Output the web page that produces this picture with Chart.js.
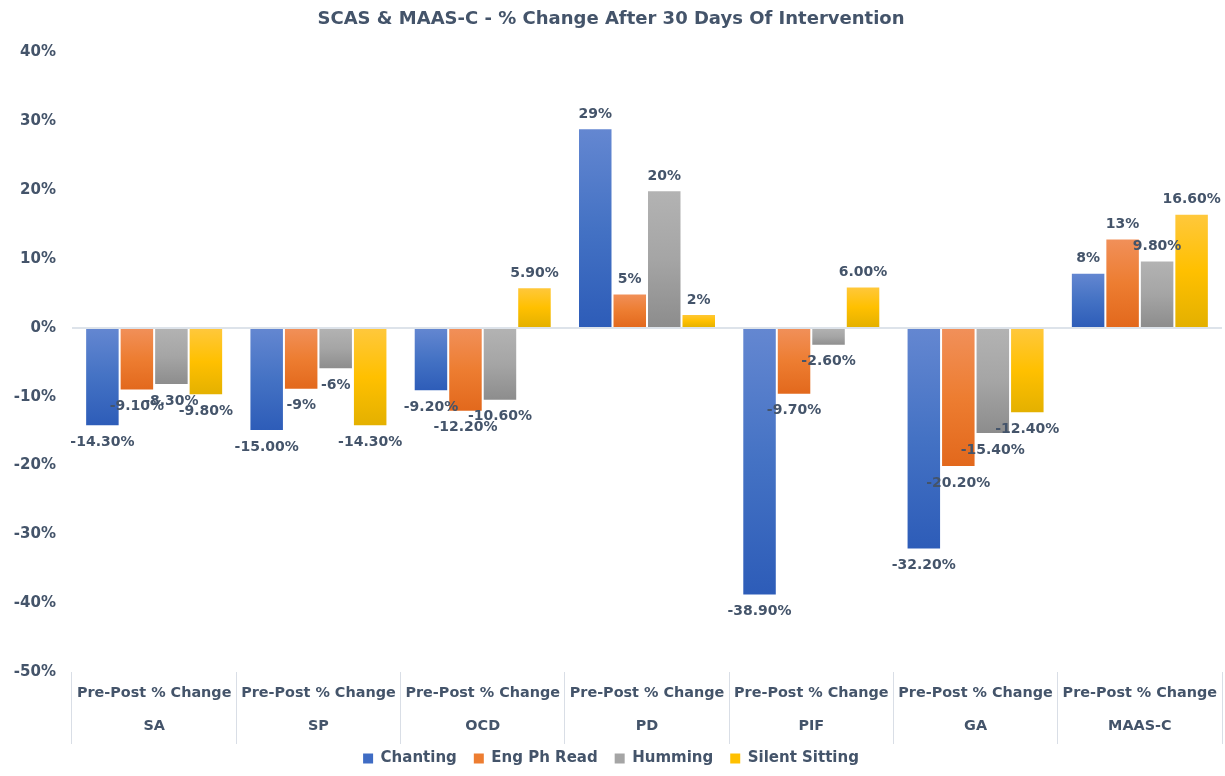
<!DOCTYPE html>
<html>
<head>
<meta charset="utf-8">
<script src="https://cdn.jsdelivr.net/npm/chart.js@4.4.1/dist/chart.umd.min.js"></script>
<style>
html,body{margin:0;padding:0;background:#fff;}
#wrap{width:1225px;height:776px;}
</style>
</head>
<body>
<div id="wrap"><canvas id="c" width="1225" height="776"></canvas></div>
<script>
const categories = ["SA", "SP", "OCD", "PD", "PIF", "GA", "MAAS-C"];
const subLabel = "Pre-Post % Change";
const seriesNames = ["Chanting", "Eng Ph Read", "Humming", "Silent Sitting"];
const chanting = [-14.3, -15.0, -9.2, 29, -38.9, -32.2, 8];
const engPhRead = [-9.1, -9, -12.2, 5, -9.7, -20.2, 13];
const humming = [-8.3, -6, -10.6, 20, -2.6, -15.4, 9.8];
const silentSitting = [-9.8, -14.3, 5.9, 2, 6.0, -12.4, 16.6];
const chantingLabels = ["-14.30%", "-15.00%", "-9.20%", "29%", "-38.90%", "-32.20%", "8%"];
const engPhReadLabels = ["-9.10%", "-9%", "-12.20%", "5%", "-9.70%", "-20.20%", "13%"];
const hummingLabels = ["-8.30%", "-6%", "-10.60%", "20%", "-2.60%", "-15.40%", "9.80%"];
const silentSittingLabels = ["-9.80%", "-14.30%", "5.90%", "2%", "6.00%", "-12.40%", "16.60%"];
const yTicks = [40, 30, 20, 10, 0, -10, -20, -30, -40, -50];

const TEXT = '#44546A';
const FONT = "'DejaVu Sans', sans-serif";

const palettes = [
  {solid:'#4472C4', top:'#6487D1', bottom:'#2D5CB8', legend:'#3F6CC4'},
  {solid:'#ED7D31', top:'#F1905A', bottom:'#E2681C', legend:'#ED7D31'},
  {solid:'#A5A5A5', top:'#B3B3B3', bottom:'#8C8C8C', legend:'#A5A5A5'},
  {solid:'#FFC000', top:'#FFC83D', bottom:'#E3B000', legend:'#FFC000'}
];

function gradFor(idx) {
  return function(ctx) {
    const chart = ctx.chart;
    const p = palettes[idx];
    if (ctx.type !== 'data' || !chart.chartArea || !chart.scales.y) return p.solid;
    const y = chart.scales.y;
    const v = ctx.raw;
    const y1 = y.getPixelForValue(v);
    const y0 = y.getPixelForValue(0);
    const top = Math.min(y0, y1), bot = Math.max(y0, y1);
    if (!isFinite(top) || bot - top < 1) return p.solid;
    const g = chart.ctx.createLinearGradient(0, top, 0, bot);
    g.addColorStop(0, p.top);
    g.addColorStop(0.5, p.solid);
    g.addColorStop(1, p.bottom);
    return g;
  };
}

const seriesData = [chanting, engPhRead, humming, silentSitting];
const seriesLabels = [chantingLabels, engPhReadLabels, hummingLabels, silentSittingLabels];

const labelPlugin = {
  id: 'barLabels',
  afterDatasetsDraw(chart) {
    const ctx = chart.ctx;
    ctx.save();
    ctx.font = "bold 14px " + FONT;
    ctx.fillStyle = TEXT;
    ctx.textAlign = 'center';
    chart.data.datasets.forEach((ds, di) => {
      const meta = chart.getDatasetMeta(di);
      meta.data.forEach((bar, i) => {
        const v = ds.data[i];
        const txt = seriesLabels[di][i];
        if (v >= 0) {
          ctx.textBaseline = 'bottom';
          ctx.fillText(txt, bar.x, bar.y - 7);
        } else {
          ctx.textBaseline = 'top';
          ctx.fillText(txt, bar.x, bar.y + 9);
        }
      });
    });
    ctx.restore();
  }
};

new Chart(document.getElementById('c'), {
  type: 'bar',
  data: {
    labels: categories.map(c => [subLabel, c]),
    datasets: seriesNames.map((n, i) => ({
      label: n,
      data: seriesData[i],
      backgroundColor: gradFor(i),
      borderColor: 'rgba(255,255,255,0.45)',
      borderWidth: 1,
      categoryPercentage: 0.84,
      barPercentage: 1.0
    }))
  },
  options: {
    responsive: false,
    animation: false,
    devicePixelRatio: 1,
    layout: {padding: {left: 0, right: 3, top: 0, bottom: 0}},
    plugins: {
      title: {
        display: true,
        text: 'SCAS & MAAS-C - % Change After 30 Days Of Intervention',
        color: TEXT,
        font: {family: FONT, size: 18, weight: 'bold'},
        padding: {top: 9, bottom: 22}
      },
      legend: {
        position: 'bottom',
        labels: {
          color: TEXT,
          font: {family: FONT, size: 15, weight: 'bold'},
          boxWidth: 10,
          boxHeight: 10,
          padding: 17,
          generateLabels(chart) {
            return seriesNames.map((n, i) => ({
              text: n,
              fillStyle: palettes[i].legend,
              strokeStyle: palettes[i].legend,
              lineWidth: 0,
              datasetIndex: i,
              fontColor: TEXT
            }));
          }
        }
      },
      tooltip: {enabled: false}
    },
    scales: {
      x: {
        grid: {
          display: true,
          drawOnChartArea: false,
          drawTicks: true,
          tickLength: 72,
          color: '#D9DEE6',
          offset: true
        },
        border: {display: false},
        ticks: {
          color: TEXT,
          font: {family: FONT, size: 14.4, weight: 'bold', lineHeight: 2.3},
          padding: -67,
          maxRotation: 0,
          autoSkip: false
        },
        afterFit(scale) { scale.height = 62; }
      },
      y: {
        min: -50,
        max: 40,
        afterBuildTicks(scale) { scale.ticks = yTicks.map(v => ({value: v})); },
        grid: {
          drawTicks: false,
          color: (c) => (c.tick && c.tick.value === 0) ? '#DDE3EA' : 'rgba(0,0,0,0)',
          lineWidth: 2
        },
        border: {display: false},
        ticks: {
          color: TEXT,
          font: {family: FONT, size: 15, weight: 'bold'},
          padding: 16,
          callback: (v) => v + '%'
        },
        afterFit(scale) { scale.width = 72; }
      }
    }
  },
  plugins: [labelPlugin]
});
</script>
</body>
</html>
